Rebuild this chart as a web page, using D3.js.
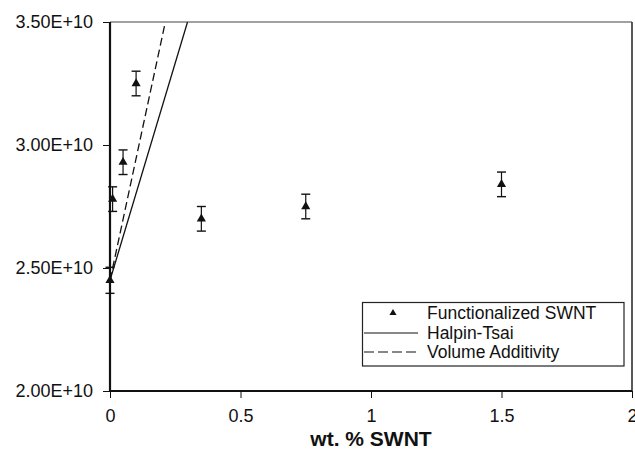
<!DOCTYPE html>
<html>
<head>
<meta charset="utf-8">
<script src="https://cdn.jsdelivr.net/npm/d3@7"></script>
<style>
  body { margin: 0; background: #fff; }
  text { font-family: Arial, "Liberation Sans", sans-serif; fill: #111; }
</style>
</head>
<body>
<svg id="chart" width="635" height="451"></svg>
<script>
// measured points (wt% SWNT vs modulus)
var loading = [0, 0.01, 0.05, 0.1, 0.35, 0.75, 1.5];
var modulus = [2.45e10, 2.78e10, 2.93e10, 3.25e10, 2.70e10, 2.75e10, 2.84e10];
var modErr  = [0.053e10, 0.05e10, 0.05e10, 0.05e10, 0.05e10, 0.05e10, 0.05e10];

// model lines (clipped at top of plot)
var halpinX = [0, 0.297];
var halpinY = [2.45e10, 3.5e10];
var volAddX = [0, 0.212];
var volAddY = [2.45e10, 3.5e10];

var xTicks = [0, 0.5, 1, 1.5, 2];
var yTicks = [2.0e10, 2.5e10, 3.0e10, 3.5e10];
var legendLabels = ["Functionalized SWNT", "Halpin-Tsai", "Volume Additivity"];

var svg = d3.select("#chart");
var margin = {top: 22, right: 3, bottom: 60, left: 110};
var W = 635, H = 451;

var x = d3.scaleLinear().domain([0, 2]).range([margin.left, W - margin.right]);
var y = d3.scaleLinear().domain([2.0e10, 3.5e10]).range([H - margin.bottom, margin.top]);

svg.append("clipPath").attr("id", "clip")
  .append("rect")
  .attr("x", margin.left).attr("y", margin.top)
  .attr("width", W - margin.right - margin.left)
  .attr("height", H - margin.bottom - margin.top);

// top / right frame
svg.append("line").attr("x1", margin.left).attr("x2", W - margin.right)
  .attr("y1", margin.top).attr("y2", margin.top)
  .attr("stroke", "#444").attr("stroke-width", 1.2);
svg.append("line").attr("x1", W - margin.right).attr("x2", W - margin.right)
  .attr("y1", margin.top).attr("y2", H - margin.bottom)
  .attr("stroke", "#222").attr("stroke-width", 1.5);

// axes
var yAxis = d3.axisLeft(y).tickValues(yTicks).tickSize(7).tickPadding(10)
  .tickFormat(function(d) { return (d / 1e10).toFixed(2) + "E+10"; });
var gy = svg.append("g").attr("transform", "translate(" + margin.left + ",0)").call(yAxis);

var xAxis = d3.axisBottom(x).tickValues(xTicks).tickSize(7).tickPadding(11)
  .tickFormat(d3.format(""));
var gx = svg.append("g").attr("transform", "translate(0," + (H - margin.bottom) + ")").call(xAxis);

[gx, gy].forEach(function(g) {
  g.select(".domain").attr("stroke", "#111").attr("stroke-width", 2.2);
  g.selectAll(".tick line").attr("stroke", "#111").attr("stroke-width", 1);
  g.selectAll(".tick text").attr("font-size", 18).attr("fill", "#111")
    .style("font-family", "Arial, 'Liberation Sans', sans-serif");
});
gy.select(".domain").attr("d", "M0," + y(3.5e10) + "V" + y(2.0e10));
gx.select(".domain").attr("d", "M" + x(0) + ",0H" + x(2));

// x title
svg.append("text")
  .attr("x", 371).attr("y", 446)
  .attr("text-anchor", "middle")
  .attr("font-size", 21).attr("font-weight", "bold")
  .text("wt. % SWNT");

// model lines
var lineGen = d3.line().x(function(d) { return x(d[0]); }).y(function(d) { return y(d[1]); });
var plot = svg.append("g").attr("clip-path", "url(#clip)");

plot.append("path")
  .datum(halpinX.map(function(v, i) { return [v, halpinY[i]]; }))
  .attr("d", lineGen).attr("fill", "none")
  .attr("stroke", "#111").attr("stroke-width", 1.3);

plot.append("path")
  .datum(volAddX.map(function(v, i) { return [v, volAddY[i]]; }))
  .attr("d", lineGen).attr("fill", "none")
  .attr("stroke", "#111").attr("stroke-width", 1.3)
  .attr("stroke-dasharray", "8,4");

// error bars + points
var pts = loading.map(function(v, i) { return {x: v, y: modulus[i], e: modErr[i]}; });
var eb = svg.append("g").selectAll("g").data(pts).enter().append("g");
eb.append("line")
  .attr("x1", function(d) { return x(d.x); }).attr("x2", function(d) { return x(d.x); })
  .attr("y1", function(d) { return y(d.y + d.e); }).attr("y2", function(d) { return y(d.y - d.e); })
  .attr("stroke", "#111").attr("stroke-width", 1.2);
[1, -1].forEach(function(s) {
  eb.append("line")
    .attr("x1", function(d) { return x(d.x) - 4.5; }).attr("x2", function(d) { return x(d.x) + 4.5; })
    .attr("y1", function(d) { return y(d.y + s * d.e); }).attr("y2", function(d) { return y(d.y + s * d.e); })
    .attr("stroke", "#111").attr("stroke-width", 1.4);
});

var tri = d3.symbol().type(d3.symbolTriangle).size(36);
eb.append("path")
  .attr("d", tri)
  .attr("transform", function(d) { return "translate(" + x(d.x) + "," + y(d.y) + ")"; })
  .attr("fill", "#111");

// legend
var lg = svg.append("g");
lg.append("rect")
  .attr("x", 362.5).attr("y", 302.5).attr("width", 261.5).attr("height", 63.5)
  .attr("fill", "#fff").attr("stroke", "#222").attr("stroke-width", 1.2);

var rows = [313, 333, 352];
lg.append("path").attr("d", d3.symbol().type(d3.symbolTriangle).size(22))
  .attr("transform", "translate(393," + rows[0] + ")").attr("fill", "#111");
lg.append("line").attr("x1", 364).attr("x2", 418).attr("y1", rows[1]).attr("y2", rows[1])
  .attr("stroke", "#111").attr("stroke-width", 1.2);
lg.append("line").attr("x1", 364).attr("x2", 418).attr("y1", rows[2]).attr("y2", rows[2])
  .attr("stroke", "#111").attr("stroke-width", 1.2).attr("stroke-dasharray", "10,4");

lg.selectAll("text.leg").data(legendLabels).enter().append("text")
  .attr("class", "leg")
  .attr("x", 427)
  .attr("y", function(d, i) { return rows[i]; })
  .attr("dy", "0.35em")
  .attr("font-size", 17.5)
  .text(function(d) { return d; });
</script>
</body>
</html>
